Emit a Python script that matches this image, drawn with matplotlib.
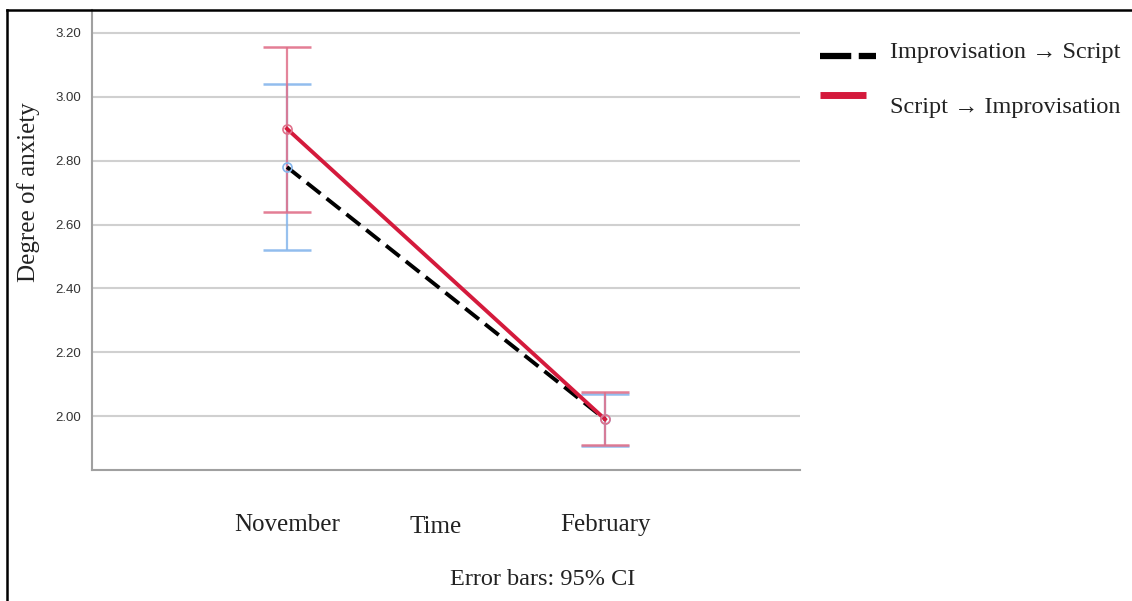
import matplotlib
matplotlib.use("Agg")
import matplotlib.pyplot as plt
from matplotlib.lines import Line2D

# ---- data ------------------------------------------------------------------
times = ["November", "February"]
series = ["Improvisation \u2192 Script", "Script \u2192 Improvisation"]
imp_mean = [2.78, 1.99]
imp_lo = [2.52, 1.905]
imp_hi = [3.04, 2.07]
scr_mean = [2.90, 1.99]
scr_lo = [2.64, 1.91]
scr_hi = [3.155, 2.075]
yticks = [2.00, 2.20, 2.40, 2.60, 2.80, 3.00, 3.20]

SERIF = ["Liberation Serif", "DejaVu Serif"]
RED = "#d41a3c"
RED_CI = "#e0708a"
BLUE_CI = "#86b6ec"
TXT = "#222222"

W, H = 1132, 601
fig = plt.figure(figsize=(W/100, H/100), dpi=100)
ax = fig.add_axes([92/W, 1-470/H, 708/W, 460/H])

x = list(range(len(times)))
cap = 0.075

# error bars (drawn first, under the lines)
for lo, hi, c in [(imp_lo, imp_hi, BLUE_CI), (scr_lo, scr_hi, RED_CI)]:
    ax.vlines(x, lo, hi, colors=c, lw=1.6, alpha=0.85, zorder=2)
    for xi, a, b in zip(x, lo, hi):
        ax.hlines([a, b], xi - cap, xi + cap, colors=c, lw=1.8, alpha=0.9, zorder=2)

# mean lines
ax.plot(x, imp_mean, color="black", lw=2.8, ls=(0, (4.5, 2)), zorder=3)
ax.plot(x, scr_mean, color=RED, lw=2.8, zorder=4)
ax.plot(x, imp_mean, ls="none", marker="o", ms=6.5, mfc="none", mec=BLUE_CI, mew=1.2, zorder=5)
ax.plot(x, scr_mean, ls="none", marker="o", ms=6.5, mfc="none", mec=RED_CI, mew=1.2, zorder=5)

ax.set_xlim(-0.613, 1.613)
ax.set_ylim(1.831, 3.272)
ax.set_yticks(yticks)
ax.set_yticklabels(["%.2f" % v for v in yticks], fontsize=9.5, color="#333333",
                   family="Liberation Sans")
ax.set_xticks(x)
ax.set_xticklabels(times, fontsize=18, family=SERIF, color=TXT)
ax.tick_params(axis="both", length=0)
ax.tick_params(axis="y", pad=8)
ax.tick_params(axis="x", pad=32)
ax.grid(axis="y", color="#d0d0d0", lw=1.5)
ax.set_axisbelow(True)
for s in ["top", "right"]:
    ax.spines[s].set_visible(False)
for s in ["left", "bottom"]:
    ax.spines[s].set_color("#a0a0a0")
    ax.spines[s].set_linewidth(1.5)

ax.set_ylabel("Degree of anxiety", fontsize=18, family=SERIF, color=TXT)
ax.yaxis.set_label_coords((40-92)/708, (470-192)/460)

fig.text(436/W, 1-533/H, "Time", fontsize=18, family=SERIF, color=TXT,
         ha="center", va="baseline")
fig.text(543/W, 1-585/H, "Error bars: 95% CI", fontsize=17.5, family=SERIF,
         color=TXT, ha="center", va="baseline")

# legend, placed by hand
fig.add_artist(Line2D([820/W, 876/W], [1-56/H, 1-56/H], color="black",
                      lw=4.5, ls=(0, (5, 1.2))))
fig.add_artist(Line2D([820/W, 866/W], [1-95/H, 1-95/H], color=RED, lw=5,
                      solid_capstyle="butt"))
fig.text(890/W, 1-58/H, series[0], fontsize=17.5, family=SERIF, color=TXT,
         va="baseline")
fig.text(890/W, 1-113/H, series[1], fontsize=17.5, family=SERIF, color=TXT,
         va="baseline")

# picture border (top and left edges)
fig.add_artist(Line2D([7/W, 1], [1-10/H, 1-10/H], color="black", lw=1.8))
fig.add_artist(Line2D([7/W, 7/W], [0, 1-10/H], color="black", lw=1.8))

fig.savefig("out.png", dpi=100)
